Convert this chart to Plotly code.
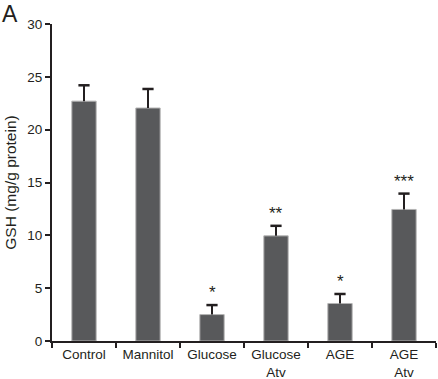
import plotly.graph_objects as go

categories = ["Control", "Mannitol", "Glucose", "Glucose<br>Atv", "AGE", "AGE<br>Atv"]
values = [22.7, 22.05, 2.5, 9.95, 3.55, 12.45]
errors = [1.5, 1.8, 0.9, 0.95, 0.9, 1.5]
signif = ["", "", "*", "**", "*", "***"]
yticks = [0, 5, 10, 15, 20, 25, 30]

FONT = "Liberation Sans, Arial, sans-serif"
INK = "#231f20"

fig = go.Figure()
fig.add_trace(go.Bar(
    x=categories, y=values,
    marker=dict(color="#58595b", line=dict(color="#b4b4b4", width=1)),
    width=0.38,
))

# error bars (upper only) drawn from the data values
ex, ey = [], []
for c, v, e in zip(categories, values, errors):
    ex += [c, c, None]
    ey += [v, v + e, None]
fig.add_trace(go.Scatter(x=ex, y=ey, mode="lines", line=dict(color=INK, width=2),
                         hoverinfo="skip"))
fig.add_trace(go.Scatter(x=categories, y=[v + e for v, e in zip(values, errors)],
                         mode="markers",
                         marker=dict(symbol="line-ew", size=8, line=dict(color=INK, width=2.5)),
                         hoverinfo="skip"))

for c, v, e, s in zip(categories, values, errors, signif):
    if s:
        fig.add_annotation(x=c, y=v + e, text=s, showarrow=False,
                           yanchor="bottom", yshift=1,
                           font=dict(family=FONT, size=17, color=INK))

fig.add_annotation(xref="paper", yref="paper", x=-0.136, y=1.078, text="A",
                   showarrow=False, xanchor="left", yanchor="top",
                   font=dict(family=FONT, size=23, color=INK))

fig.update_layout(
    width=438, height=379,
    margin=dict(l=52, r=2, t=24, b=38),
    plot_bgcolor="white", paper_bgcolor="white",
    showlegend=False,
    font=dict(family=FONT, size=14, color=INK),
    xaxis=dict(range=[-0.5, 5.5], showline=True, linecolor=INK, linewidth=2,
               ticks="outside", tickson="boundaries", ticklen=5, tickwidth=2,
               tickcolor=INK, showgrid=False, tickfont=dict(size=13.5),
               automargin=False),
    yaxis=dict(range=[0, 30], tickvals=yticks, showline=True, linecolor=INK,
               linewidth=2, ticks="outside", ticklen=5, tickwidth=2, tickcolor=INK,
               showgrid=False, zeroline=False, tickfont=dict(size=13.5),
               automargin=False,
               title=dict(text="GSH (mg/g protein)", font=dict(size=15.5), standoff=7)),
)

fig.write_html("out.html", config={"displayModeBar": False},
               post_script="document.body.style.margin='0';document.body.style.padding='0';")
